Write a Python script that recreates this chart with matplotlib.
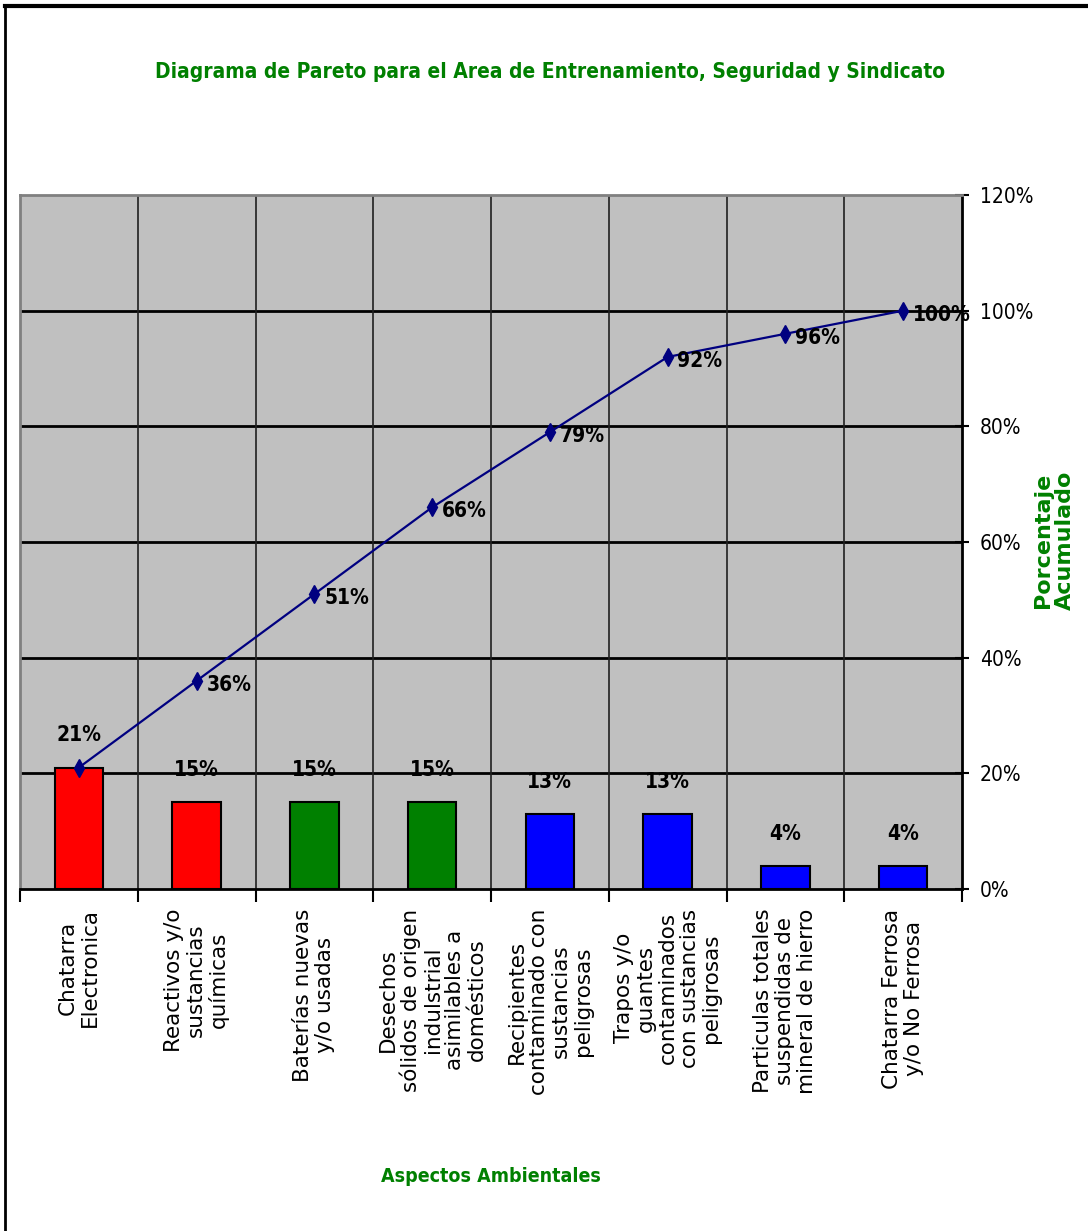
import numpy as np
import matplotlib.pyplot as plt
from matplotlib import font_manager as fm
from matplotlib.lines import Line2D
from matplotlib.ticker import MultipleLocator, FuncFormatter

# datos del diagrama de Pareto
categorias = ['Chatarra\nElectronica',
              'Reactivos y/o\nsustancias\nquímicas',
              'Baterías nuevas\ny/o usadas',
              'Desechos\nsólidos de origen\nindulstrial\nasimilables a\ndomésticos',
              'Recipientes\ncontaminado con\nsustancias\npeligrosas',
              'Trapos y/o\nguantes\ncontaminados\ncon sustancias\npeligrosas',
              'Particulas totales\nsuspendidas de\nmineral de hierro',
              'Chatarra Ferrosa\ny/o No Ferrosa']
porcentaje = [0.21, 0.15, 0.15, 0.15, 0.13, 0.13, 0.04, 0.04]
acumulado = [0.21, 0.36, 0.51, 0.66, 0.79, 0.92, 0.96, 1.00]
colores = ['#FF0000', '#FF0000', '#008000', '#008000', '#0000FF', '#0000FF', '#0000FF', '#0000FF']
y_ticks = [0, 0.2, 0.4, 0.6, 0.8, 1.0, 1.2]

# buscar una fuente estrecha (tipo Arial Narrow) si existe
cond = [f for f in fm.fontManager.ttflist
        if 'condensed' in str(f.stretch).lower() or 'Narrow' in f.name or 'Condensed' in f.name]
if cond:
    narrow = dict(family=[cond[0].name, 'DejaVu Sans'], stretch=cond[0].stretch)
    escala = 1.0
else:
    narrow = dict(family=['Liberation Sans', 'DejaVu Sans'])
    escala = 0.9

verde = '#008000'

fig = plt.figure(figsize=(10.88, 12.31), dpi=100)
ax = fig.add_axes([20/1088, 1-889/1231, (962-20)/1088, (889-195)/1231])
ax.set_facecolor('#C0C0C0')

x = np.arange(len(categorias))
ax.bar(x, porcentaje, width=0.41, color=colores, edgecolor='black', linewidth=1.5, zorder=3)
ax.plot(x, acumulado, color='#000080', lw=1.6, marker='d', ms=9, zorder=4)

for i in range(len(x)):
    ax.annotate('{:.0f}%'.format(porcentaje[i]*100), (x[i], porcentaje[i]), xytext=(0, 16),
                textcoords='offset points', ha='center', va='bottom',
                fontsize=15*escala, fontweight='bold', zorder=5, **narrow)
    if i > 0:
        ax.annotate('{:.0f}%'.format(acumulado[i]*100), (x[i], acumulado[i]), xytext=(7, -3),
                    textcoords='offset points', ha='left', va='center',
                    fontsize=15*escala, fontweight='bold', zorder=5, **narrow)

ax.set_xlim(-0.5, len(x)-0.5)
ax.set_ylim(0, 1.2)

# eje y a la derecha
ax.yaxis.tick_right()
ax.set_yticks(y_ticks)
ax.yaxis.set_major_formatter(FuncFormatter(lambda v, p: '{:.0f}%'.format(v*100)))
ax.tick_params(axis='y', direction='inout', length=10, width=1.5, pad=8)
for t in ax.get_yticklabels():
    t.set_fontproperties(fm.FontProperties(size=15*escala, **narrow))
ax.yaxis.set_label_position('right')
ax.set_ylabel('Porcentaje\nAcumulado', color=verde, fontsize=16, fontweight='bold',
              family='DejaVu Sans', linespacing=1.1)
ax.yaxis.set_label_coords((1054-20)/942, (889-540)/694)
ax.yaxis.label.set_va('center')
ax.yaxis.label.set_ha('center')

# eje x
ax.set_xticks(x)
ax.set_xticklabels(categorias, rotation=90, va='top', ha='center', multialignment='center',
                   fontsize=15.5, family='DejaVu Sans', linespacing=1.12)
ax.xaxis.set_minor_locator(MultipleLocator(1, offset=0.5))
ax.tick_params(axis='x', which='major', length=0, pad=14)
ax.tick_params(axis='x', which='minor', direction='out', length=9, width=1.5)
ax.set_xlabel('Aspectos Ambientales', color=verde, fontsize=14*escala, fontweight='bold',
              labelpad=52, **narrow)

# rejilla
for v in y_ticks[1:-1]:
    ax.axhline(v, color='black', lw=2, zorder=1)
for b in np.arange(0.5, len(x)-1, 1):
    ax.axvline(b, color='#202020', lw=1.2, zorder=1)

for s in ['top', 'left', 'right', 'bottom']:
    ax.spines[s].set_linewidth(2)
ax.spines['top'].set_color('#808080')
ax.spines['left'].set_color('#808080')
ax.spines['right'].set_color('black')
ax.spines['bottom'].set_color('black')

fig.text(550/1088, 1-72/1231, 'Diagrama de Pareto para el Area de Entrenamiento, Seguridad y Sindicato',
         color=verde, fontsize=15*escala, fontweight='bold', ha='center', va='center', **narrow)

# marco
fig.add_artist(Line2D([5/1088, 5/1088], [0, 1-6/1231], color='black', lw=2, transform=fig.transFigure))
fig.add_artist(Line2D([5/1088, 1], [1-6/1231, 1-6/1231], color='black', lw=3, transform=fig.transFigure))

fig.savefig('out.png', dpi=100)
